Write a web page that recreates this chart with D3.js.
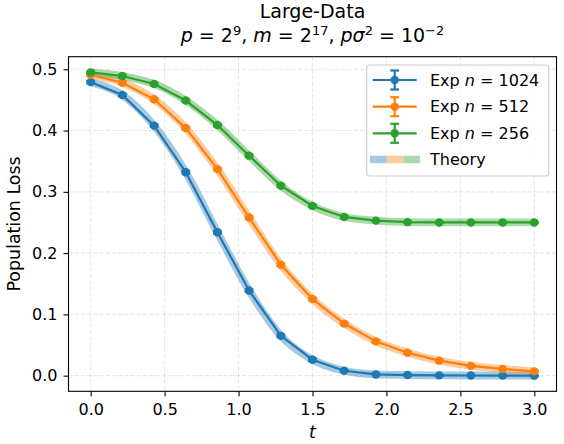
<!DOCTYPE html>
<html>
<head>
<meta charset="utf-8">
<script src="https://cdn.jsdelivr.net/npm/d3@7"></script>
<style>
  body { margin: 0; background: #fff; }
  text { font-family: "DejaVu Sans", sans-serif; fill: #000; }
</style>
</head>
<body>
<script>
const width = 564;
const height = 444;
const plot = ({left: 68.5, right: 556.5, top: 56.7, bottom: 391.3});

// t values of the experiment points
const tVals = [0, 0.214, 0.429, 0.643, 0.857, 1.071, 1.286, 1.5, 1.714, 1.929, 2.143, 2.357, 2.571, 2.786, 3.0];

// population loss
const loss1024 = [0.479, 0.458, 0.408, 0.332, 0.234, 0.139, 0.065, 0.026, 0.008, 0.002, 0.001, 0.0005, 0.0003, 0.0001, 0.0];
const loss512 = [0.491, 0.478, 0.451, 0.404, 0.337, 0.258, 0.181, 0.125, 0.085, 0.056, 0.0375, 0.0245, 0.016, 0.011, 0.007];
const loss256 = [0.495, 0.489, 0.476, 0.449, 0.409, 0.359, 0.310, 0.277, 0.259, 0.253, 0.2505, 0.250, 0.250, 0.250, 0.250];

// error bar half heights (tiny)
const err1024 = [0.002, 0.002, 0.002, 0.002, 0.002, 0.002, 0.002, 0.002, 0.001, 0.001, 0.001, 0.001, 0.001, 0.001, 0.001];
const err512 = [0.002, 0.002, 0.002, 0.002, 0.002, 0.002, 0.002, 0.002, 0.002, 0.002, 0.001, 0.001, 0.001, 0.001, 0.001];
const err256 = [0.002, 0.002, 0.002, 0.002, 0.002, 0.002, 0.002, 0.002, 0.002, 0.001, 0.001, 0.001, 0.001, 0.001, 0.001];

const seriesNames = ["1024", "512", "256"];
const seriesColors = ["#1f77b4", "#ff7f0e", "#2ca02c"];
const xTicks = [0, 0.5, 1.0, 1.5, 2.0, 2.5, 3.0];
const yTicks = [0.0, 0.1, 0.2, 0.3, 0.4, 0.5];

let svg = null;
let x = null;
let y = null;
let series = [];

function buildSeries() {
    const losses = [loss1024, loss512, loss256];
    const errs = [err1024, err512, err256];
    series = seriesNames.map((name, i) => ({
        name: name,
        color: seriesColors[i],
        points: tVals.map((t, j) => ({t: t, v: losses[i][j], e: errs[i][j]}))
    }));
}

function initializeScales() {
    x = d3.scaleLinear()
        .domain([-0.15, 3.15])
        .range([plot.left, plot.right]);
    y = d3.scaleLinear()
        .domain([-0.0255, 0.5205])
        .range([plot.bottom, plot.top]);
}

function drawAxes() {
    svg = d3.select("body")
        .append("svg")
        .attr("width", width)
        .attr("height", height);

    // grid
    const grid = svg.append("g")
        .attr("stroke", "#b0b0b0")
        .attr("stroke-opacity", 0.3)
        .attr("stroke-width", 1.1)
        .attr("stroke-dasharray", "4.3,1.9");
    grid.selectAll(".gx")
        .data(xTicks)
        .join("line")
        .attr("x1", d => x(d)).attr("x2", d => x(d))
        .attr("y1", plot.top).attr("y2", plot.bottom);
    grid.selectAll(".gy")
        .data(yTicks)
        .join("line")
        .attr("class", "gy")
        .attr("y1", d => y(d)).attr("y2", d => y(d))
        .attr("x1", plot.left).attr("x2", plot.right);

    const xAxis = svg.append("g")
        .attr("transform", `translate(0,${plot.bottom})`)
        .call(d3.axisBottom(x).tickValues(xTicks).tickFormat(d3.format(".1f"))
            .tickSize(5).tickPadding(7).tickSizeOuter(0));
    const yAxis = svg.append("g")
        .attr("transform", `translate(${plot.left},0)`)
        .call(d3.axisLeft(y).tickValues(yTicks).tickFormat(d3.format(".1f"))
            .tickSize(5).tickPadding(6).tickSizeOuter(0));

    [xAxis, yAxis].forEach(a => {
        a.select(".domain").remove();
        a.selectAll("line").attr("stroke", "#000").attr("stroke-width", 1.1);
        a.selectAll("text")
            .attr("font-family", "DejaVu Sans")
            .attr("font-size", 16)
            .attr("fill", "#000");
    });

    // axis labels
    svg.append("text")
        .attr("x", (plot.left + plot.right) / 2)
        .attr("y", 437.5)
        .attr("text-anchor", "middle")
        .attr("font-size", 17.4)
        .attr("font-style", "italic")
        .text("t");

    svg.append("text")
        .attr("transform", `translate(20,${(plot.top + plot.bottom) / 2}) rotate(-90)`)
        .attr("text-anchor", "middle")
        .attr("font-size", 17.4)
        .text("Population Loss");

    // title: one text, two lines
    const cx = (plot.left + plot.right) / 2;
    const title = svg.append("text")
        .attr("x", cx).attr("y", 18)
        .attr("text-anchor", "middle")
        .attr("font-size", 19);
    title.append("tspan")
        .attr("x", cx)
        .text("Large-Data");

    const parts = [
        ["p", "i"], [" = 2", "n"], ["9", "s"], [", ", "n"],
        ["m", "i"], [" = 2", "n"], ["17", "s"], [", ", "n"],
        ["pσ", "i"], ["2", "s"], [" = 10", "n"], ["−2", "s"]
    ];
    const line2 = title.append("tspan")
        .attr("x", cx)
        .attr("dy", 23.5);
    let raised = false;
    parts.forEach(([txt, kind]) => {
        const ts = line2.append("tspan").text(txt);
        if (kind === "i") ts.attr("font-style", "italic");
        if (kind === "s") {
            ts.attr("font-size", 13).attr("dy", -6.5);
            raised = true;
        } else if (raised) {
            ts.attr("dy", 6.5);
            raised = false;
        }
    });
}

function drawSeries() {
    const theoryLine = d3.line()
        .x(d => x(d.t))
        .y(d => y(d.v))
        .curve(d3.curveMonotoneX);

    const expLine = d3.line()
        .x(d => x(d.t))
        .y(d => y(d.v));

    // theory bands
    svg.append("g")
        .selectAll("path")
        .data(series)
        .join("path")
        .attr("d", d => theoryLine(d.points))
        .attr("fill", "none")
        .attr("stroke", d => d.color)
        .attr("stroke-opacity", 0.4)
        .attr("stroke-width", 7.8);

    const g = svg.append("g")
        .selectAll("g")
        .data(series)
        .join("g");

    g.append("path")
        .attr("d", d => expLine(d.points))
        .attr("fill", "none")
        .attr("stroke", d => d.color)
        .attr("stroke-width", 2.2);

    const pts = g.selectAll("g.pt")
        .data(d => d.points.map(p => ({...p, color: d.color})))
        .join("g")
        .attr("class", "pt");

    pts.append("line")
        .attr("x1", d => x(d.t)).attr("x2", d => x(d.t))
        .attr("y1", d => y(d.v - d.e)).attr("y2", d => y(d.v + d.e))
        .attr("stroke", d => d.color).attr("stroke-width", 2.2);
    [-1, 1].forEach(s => {
        pts.append("line")
            .attr("x1", d => x(d.t) - 4.4).attr("x2", d => x(d.t) + 4.4)
            .attr("y1", d => y(d.v + s * d.e)).attr("y2", d => y(d.v + s * d.e))
            .attr("stroke", d => d.color).attr("stroke-width", 2.2);
    });
    pts.append("circle")
        .attr("cx", d => x(d.t))
        .attr("cy", d => y(d.v))
        .attr("r", 4.2)
        .attr("fill", d => d.color);

    // frame
    svg.append("rect")
        .attr("x", plot.left).attr("y", plot.top)
        .attr("width", plot.right - plot.left)
        .attr("height", plot.bottom - plot.top)
        .attr("fill", "none")
        .attr("stroke", "#000")
        .attr("stroke-width", 1.1);
}

function legend() {
    const lg = svg.append("g");
    lg.append("rect")
        .attr("x", 366.7).attr("y", 65)
        .attr("width", 182).attr("height", 111)
        .attr("rx", 3)
        .attr("fill", "#fff").attr("fill-opacity", 0.8)
        .attr("stroke", "#cccccc").attr("stroke-width", 1.1);

    const rowY = [80, 106.7, 133.3];
    const rows = lg.selectAll("g.row")
        .data(series)
        .join("g")
        .attr("class", "row")
        .attr("transform", (d, i) => `translate(0,${rowY[i]})`);

    rows.append("line")
        .attr("x1", 372.7).attr("x2", 416.7)
        .attr("stroke", d => d.color).attr("stroke-width", 2.2);
    rows.append("line")
        .attr("x1", 394.7).attr("x2", 394.7)
        .attr("y1", -9.5).attr("y2", 9.5)
        .attr("stroke", d => d.color).attr("stroke-width", 2.2);
    [-9.5, 9.5].forEach(dy => {
        rows.append("line")
            .attr("x1", 390.3).attr("x2", 399.1)
            .attr("y1", dy).attr("y2", dy)
            .attr("stroke", d => d.color).attr("stroke-width", 2.2);
    });
    rows.append("circle")
        .attr("cx", 394.7).attr("r", 4.2)
        .attr("fill", d => d.color);

    const txt = rows.append("text")
        .attr("x", 430).attr("dy", "0.36em")
        .attr("font-size", 16);
    txt.append("tspan").text("Exp ");
    txt.append("tspan").attr("font-style", "italic").text("n");
    txt.append("tspan").text(d => " = " + d.name);

    const th = lg.append("g").attr("transform", "translate(0,159.5)");
    th.selectAll("rect")
        .data(series)
        .join("rect")
        .attr("x", (d, i) => 370 + i * 16.7)
        .attr("y", -3.75)
        .attr("width", 16.7).attr("height", 7.5)
        .attr("fill", d => d.color).attr("fill-opacity", 0.4);
    th.append("text")
        .attr("x", 430).attr("dy", "0.36em")
        .attr("font-size", 16)
        .text("Theory");
}

buildSeries();
initializeScales();
drawAxes();
drawSeries();
legend();
</script>
</body>
</html>
